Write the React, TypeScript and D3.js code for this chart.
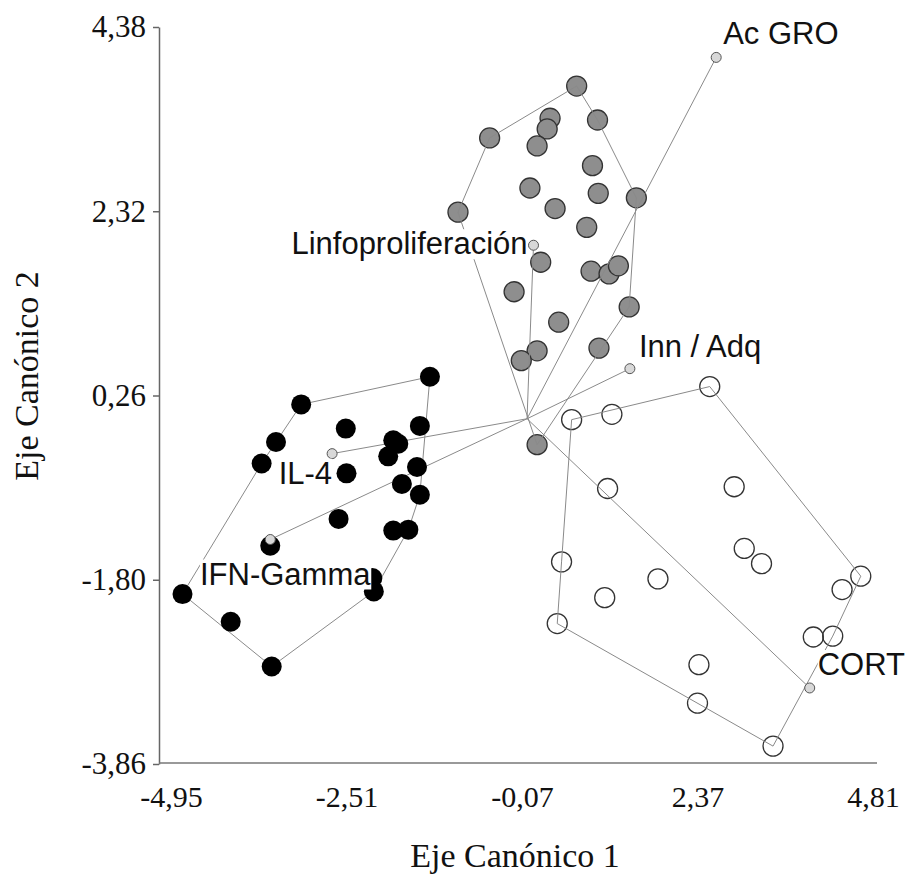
import React from "react";
import * as d3 from "d3";

// axis ticks (values printed on the axes)
const xTicks = [-4.95, -2.51, -0.07, 2.37, 4.81];
const yTicks = [-3.86, -1.8, 0.26, 2.32, 4.38];

// group scores on the canonical axes
const grayPoints: [number, number][] = [
  [0.69, 3.72], [0.32, 3.36], [0.28, 3.24], [0.98, 3.34], [-0.52, 3.14],
  [0.14, 3.05], [0.91, 2.83], [0.04, 2.58], [0.99, 2.52], [1.52, 2.47],
  [-0.96, 2.31], [0.39, 2.35], [0.83, 2.14], [0.19, 1.75], [0.89, 1.65],
  [1.14, 1.62], [1.27, 1.71], [-0.18, 1.42], [0.44, 1.08], [1.42, 1.25],
  [1.0, 0.79], [0.14, 0.76], [-0.08, 0.65], [0.14, -0.29],
];

const blackPoints: [number, number][] = [
  [-1.35, 0.47], [-3.14, 0.16], [-2.52, -0.11], [-1.49, -0.08], [-3.49, -0.26],
  [-1.86, -0.24], [-1.79, -0.28], [-3.69, -0.5], [-1.93, -0.42], [-2.51, -0.61],
  [-1.53, -0.54], [-1.74, -0.73], [-1.49, -0.85], [-2.62, -1.12], [-1.86, -1.25],
  [-1.65, -1.24], [-3.57, -1.42], [-2.15, -1.78], [-2.13, -1.93], [-4.79, -1.96],
  [-4.12, -2.27], [-3.55, -2.77],
];

const openPoints: [number, number][] = [
  [2.54, 0.36], [1.18, 0.05], [0.62, -0.01], [1.12, -0.78], [2.88, -0.76],
  [3.02, -1.45], [3.26, -1.62], [0.48, -1.6], [4.64, -1.76], [4.38, -1.91],
  [1.82, -1.79], [1.08, -2.0], [0.42, -2.29], [3.98, -2.44], [4.25, -2.43],
  [2.39, -2.75], [2.37, -3.18], [3.42, -3.66],
];

// variable vectors (biplot)
const vectorNames = ["Ac GRO", "Linfoproliferación", "Inn / Adq", "IL-4", "IFN-Gamma", "CORT"];
const vectorX = [2.63, 0.09, 1.43, -2.71, -3.57, 3.93];
const vectorY = [4.04, 1.94, 0.56, -0.39, -1.35, -3.01];

// label placement relative to the vector tip
const labelPos: Record<string, { dx: number; dy: number; anchor: string }> = {
  "Ac GRO": { dx: 7, dy: -13, anchor: "start" },
  "Linfoproliferación": { dx: -6, dy: 9, anchor: "end" },
  "Inn / Adq": { dx: 9, dy: -12, anchor: "start" },
  "IL-4": { dx: 0, dy: 30, anchor: "end" },
  "IFN-Gamma": { dx: 15, dy: 45, anchor: "middle" },
  "CORT": { dx: 8, dy: -13, anchor: "start" },
};

const W = 906;
const H = 874;

export default function App() {
  const svgRef = React.useRef<SVGSVGElement>(null);

  React.useEffect(() => {
    const svg = d3.select(svgRef.current);
    svg.selectAll("*").remove();

    const x = d3.scaleLinear().domain([-4.95, 4.81]).range([171, 873]);
    const y = d3.scaleLinear().domain([-3.86, 4.38]).range([764, 27]);

    const loc = d3.formatLocale({
      decimal: ",",
      thousands: ".",
      grouping: [3],
      currency: ["", ""],
      minus: "-",
    });
    const fmt = loc.format(".2f");

    const axisX0 = 159;
    const axisY0 = 763;

    // y axis
    const yAxis = d3
      .axisLeft(y)
      .tickValues(yTicks)
      .tickSize(6)
      .tickSizeOuter(0)
      .tickPadding(7)
      .tickFormat((d) => fmt(d as number));
    const gy = svg.append("g").attr("transform", `translate(${axisX0},0)`).call(yAxis);
    gy.selectAll("path, line").attr("stroke", "#666").attr("stroke-width", 1.5);
    gy.selectAll("text")
      .attr("fill", "#111")
      .style("font-family", "'Liberation Serif', 'Times New Roman', serif")
      .style("font-size", "31px");

    // x axis (no tick marks, long baseline)
    const xAxis = d3
      .axisBottom(x)
      .tickValues(xTicks)
      .tickSize(0)
      .tickPadding(23)
      .tickFormat((d) => fmt(d as number));
    const gx = svg.append("g").attr("transform", `translate(0,${axisY0})`).call(xAxis);
    gx.select(".domain").remove();
    gx.selectAll("text")
      .attr("fill", "#111")
      .style("font-family", "'Liberation Serif', 'Times New Roman', serif")
      .style("font-size", "30px");
    svg
      .append("line")
      .attr("x1", axisX0)
      .attr("x2", 877)
      .attr("y1", axisY0)
      .attr("y2", axisY0)
      .attr("stroke", "#777")
      .attr("stroke-width", 1.5);

    // axis titles
    svg
      .append("text")
      .attr("x", 515)
      .attr("y", 867)
      .attr("text-anchor", "middle")
      .style("font-family", "'Liberation Serif', 'Times New Roman', serif")
      .style("font-size", "34px")
      .attr("fill", "#111")
      .text("Eje Canónico 1");
    svg
      .append("text")
      .attr("transform", `translate(38,376) rotate(-90)`)
      .attr("text-anchor", "middle")
      .style("font-family", "'Liberation Serif', 'Times New Roman', serif")
      .style("font-size", "34px")
      .attr("fill", "#111")
      .text("Eje Canónico 2");

    const r = 10;

    // gray and open groups under the lines
    svg
      .append("g")
      .selectAll("circle")
      .data(grayPoints)
      .join("circle")
      .attr("cx", (d) => x(d[0]))
      .attr("cy", (d) => y(d[1]))
      .attr("r", r)
      .attr("fill", "#8e8e8e")
      .attr("stroke", "#333")
      .attr("stroke-width", 1.3);

    svg
      .append("g")
      .selectAll("circle")
      .data(openPoints)
      .join("circle")
      .attr("cx", (d) => x(d[0]))
      .attr("cy", (d) => y(d[1]))
      .attr("r", r)
      .attr("fill", "none")
      .attr("stroke", "#333")
      .attr("stroke-width", 1.3);

    // convex hulls
    const hullLine = d3
      .line<[number, number]>()
      .x((d) => x(d[0]))
      .y((d) => y(d[1]))
      .curve(d3.curveLinearClosed);
    [grayPoints, blackPoints, openPoints].forEach((pts) => {
      const hull = d3.polygonHull(pts) as [number, number][];
      svg
        .append("path")
        .attr("d", hullLine(hull))
        .attr("fill", "none")
        .attr("stroke", "#8a8a8a")
        .attr("stroke-width", 1);
    });

    // vectors from the origin
    svg
      .append("g")
      .selectAll("line")
      .data(vectorNames)
      .join("line")
      .attr("x1", x(0))
      .attr("y1", y(0))
      .attr("x2", (_, i) => x(vectorX[i]))
      .attr("y2", (_, i) => y(vectorY[i]))
      .attr("stroke", "#8a8a8a")
      .attr("stroke-width", 1);

    // black group
    svg
      .append("g")
      .selectAll("circle")
      .data(blackPoints)
      .join("circle")
      .attr("cx", (d) => x(d[0]))
      .attr("cy", (d) => y(d[1]))
      .attr("r", r)
      .attr("fill", "#000");

    // vector tips
    svg
      .append("g")
      .selectAll("circle")
      .data(vectorNames)
      .join("circle")
      .attr("cx", (_, i) => x(vectorX[i]))
      .attr("cy", (_, i) => y(vectorY[i]))
      .attr("r", 5)
      .attr("fill", "#d8d8d8")
      .attr("stroke", "#555")
      .attr("stroke-width", 1);

    // labels with white backing
    vectorNames.forEach((name, i) => {
      const p = labelPos[name];
      const g = svg.append("g");
      const t = g
        .append("text")
        .attr("x", x(vectorX[i]) + p.dx)
        .attr("y", y(vectorY[i]) + p.dy)
        .attr("text-anchor", p.anchor)
        .style("font-family", "'Liberation Sans', Arial, sans-serif")
        .style("font-size", "31px")
        .attr("fill", "#111")
        .text(name);
      const bb = (t.node() as SVGTextElement).getBBox();
      g.insert("rect", "text")
        .attr("x", bb.x)
        .attr("y", bb.y + 3)
        .attr("width", bb.width)
        .attr("height", bb.height - 5)
        .attr("fill", "#fff");
    });
  }, []);

  return (
    <>
      <style>{"body{margin:0}"}</style>
      <svg ref={svgRef} width={W} height={H} style={{ display: "block", background: "#fff" }} />
    </>
  );
}
